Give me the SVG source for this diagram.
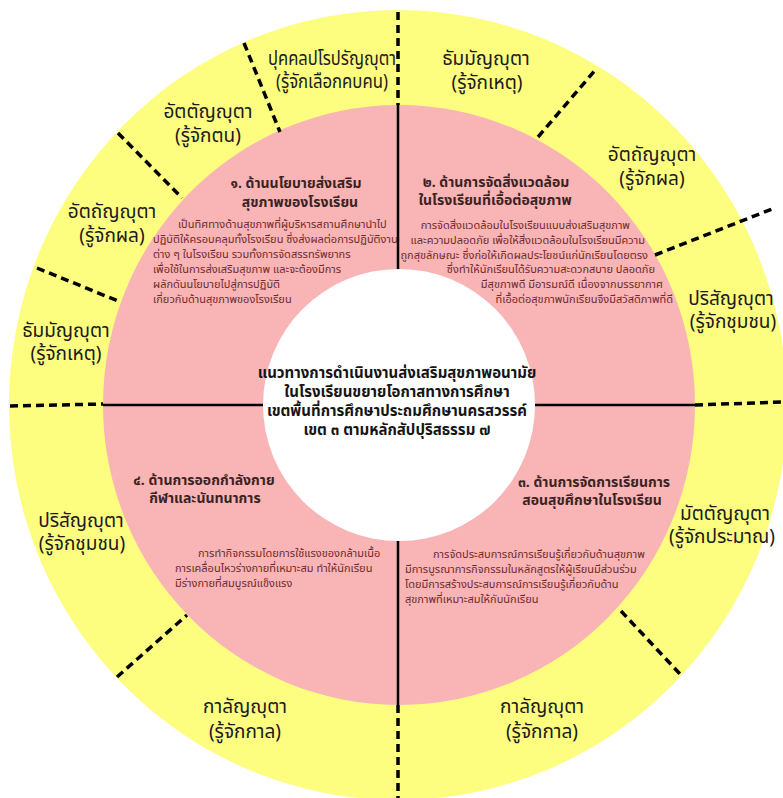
<svg xmlns="http://www.w3.org/2000/svg" width="783" height="798" viewBox="0 0 783 798">
<style>
text{font-family:"Noto Sans Thai","Noto Sans","DejaVu Sans",sans-serif}
.lbl{font-size:19px;fill:#1a1a1a;text-anchor:middle}
.ttl{font-size:14px;font-weight:bold;fill:#3b2323;text-anchor:middle}
.body{font-size:11px;fill:#6e2a2a}
.ctr{font-size:15px;font-weight:bold;fill:#151515;text-anchor:middle}
.dash{stroke:#000;stroke-width:3.5;stroke-dasharray:8 5;fill:none}
.solid{stroke:#000;stroke-width:2.5;fill:none}
</style>
<rect width="783" height="798" fill="#fff"/>
<ellipse cx="398" cy="405" rx="389" ry="395" fill="#fdfd80"/>
<ellipse cx="399" cy="405" rx="296" ry="300" fill="#f9b4b6"/>
<g id="connectors">
<line class="solid" x1="398" y1="105" x2="398" y2="705"/>
<line class="solid" x1="103" y1="405" x2="695" y2="405"/>
<line class="dash" x1="398" y1="12" x2="398" y2="105"/>
<line class="dash" x1="244" y1="43" x2="280" y2="132"/>
<line class="dash" x1="118" y1="133" x2="182" y2="198"/>
<line class="dash" x1="37" y1="268" x2="118" y2="301"/>
<line class="dash" x1="10" y1="406" x2="103" y2="404"/>
<line class="dash" x1="117" y1="677" x2="187" y2="615"/>
<line class="dash" x1="398" y1="705" x2="398" y2="798"/>
<line class="dash" x1="621" y1="611" x2="680" y2="674"/>
<line class="dash" x1="695" y1="405" x2="783" y2="402"/>
<line class="dash" x1="655" y1="255" x2="772" y2="209"/>
<line class="dash" x1="538" y1="137" x2="597" y2="68"/>
</g>
<g id="center">
<circle cx="399" cy="405" r="136" fill="#fff"/>
<text class="ctr" x="397" y="378">แนวทางการดำเนินงานส่งเสริมสุขภาพอนามัย</text>
<text class="ctr" x="397" y="397">ในโรงเรียนขยายโอกาสทางการศึกษา</text>
<text class="ctr" x="397" y="416">เขตพื้นที่การศึกษาประถมศึกษานครสวรรค์</text>
<text class="ctr" x="397" y="435">เขต ๓ ตามหลักสัปปุริสธรรม ๗</text>
</g>
<g id="section1">
<text class="ttl" x="296" y="188">๑. ด้านนโยบายส่งเสริม</text>
<text class="ttl" x="300" y="207">สุขภาพของโรงเรียน</text>
<text class="body" x="178" y="228">เป็นทิศทางด้านสุขภาพที่ผู้บริหารสถานศึกษานำไป</text>
<text class="body" x="153" y="243">ปฏิบัติให้ครอบคลุมทั้งโรงเรียน ซึ่งส่งผลต่อการปฏิบัติงาน</text>
<text class="body" x="153" y="258">ต่าง ๆ ในโรงเรียน รวมทั้งการจัดสรรทรัพยากร</text>
<text class="body" x="153" y="273">เพื่อใช้ในการส่งเสริมสุขภาพ และจะต้องมีการ</text>
<text class="body" x="153" y="288">ผลักดันนโยบายไปสู่การปฏิบัติ</text>
<text class="body" x="153" y="303">เกี่ยวกับด้านสุขภาพของโรงเรียน</text>
</g>
<g id="section2">
<text class="ttl" x="496" y="187">๒. ด้านการจัดสิ่งแวดล้อม</text>
<text class="ttl" x="495" y="205">ในโรงเรียนที่เอื้อต่อสุขภาพ</text>
<g text-anchor="end">
<text class="body" x="630" y="229">การจัดสิ่งแวดล้อมในโรงเรียนแบบส่งเสริมสุขภาพ</text>
<text class="body" x="645" y="244">และความปลอดภัย เพื่อให้สิ่งแวดล้อมในโรงเรียนมีความ</text>
<text class="body" x="648" y="259">ถูกสุขลักษณะ ซึ่งก่อให้เกิดผลประโยชน์แก่นักเรียนโดยตรง</text>
<text class="body" x="655" y="273">ซึ่งทำให้นักเรียนได้รับความสะดวกสบาย ปลอดภัย</text>
<text class="body" x="663" y="288">มีสุขภาพดี มีอารมณ์ดี เนื่องจากบรรยากาศ</text>
<text class="body" x="673" y="303">ที่เอื้อต่อสุขภาพนักเรียนจึงมีสวัสดิภาพที่ดี</text>
</g>
</g>
<g id="section3">
<text class="ttl" x="594" y="487">๓. ด้านการจัดการเรียนการ</text>
<text class="ttl" x="592" y="505">สอนสุขศึกษาในโรงเรียน</text>
<text class="body" x="433" y="558">การจัดประสบการณ์การเรียนรู้เกี่ยวกับด้านสุขภาพ</text>
<text class="body" x="405" y="573">มีการบูรณาการกิจกรรมในหลักสูตรให้ผู้เรียนมีส่วนร่วม</text>
<text class="body" x="405" y="588">โดยมีการสร้างประสบการณ์การเรียนรู้เกี่ยวกับด้าน</text>
<text class="body" x="405" y="603">สุขภาพที่เหมาะสมให้กับนักเรียน</text>
</g>
<g id="section4">
<text class="ttl" x="204" y="485">๔. ด้านการออกกำลังกาย</text>
<text class="ttl" x="205" y="503">กีฬาและนันทนาการ</text>
<text class="body" x="198" y="557">การทำกิจกรรมโดยการใช้แรงของกล้ามเนื้อ</text>
<text class="body" x="175" y="572">การเคลื่อนไหวร่างกายที่เหมาะสม ทำให้นักเรียน</text>
<text class="body" x="175" y="587">มีร่างกายที่สมบูรณ์แข็งแรง</text>
</g>
<g id="label-pukkala">
<text class="lbl" x="332" y="65" textLength="128" lengthAdjust="spacingAndGlyphs">ปุคคลปโรปรัญญุตา</text>
<text class="lbl" x="332" y="88" textLength="112" lengthAdjust="spacingAndGlyphs">(รู้จักเลือกคบคน)</text>
</g>
<g id="label-dhamma-right">
<text class="lbl" x="486" y="65">ธัมมัญญุตา</text>
<text class="lbl" x="487" y="89">(รู้จักเหตุ)</text>
</g>
<g id="label-atta-left">
<text class="lbl" x="208" y="118">อัตตัญญุตา</text>
<text class="lbl" x="208" y="142">(รู้จักตน)</text>
</g>
<g id="label-attha-left">
<text class="lbl" x="112" y="218">อัตถัญญุตา</text>
<text class="lbl" x="112" y="242">(รู้จักผล)</text>
</g>
<g id="label-dhamma-left">
<text class="lbl" x="66" y="337">ธัมมัญญุตา</text>
<text class="lbl" x="66" y="360">(รู้จักเหตุ)</text>
</g>
<g id="label-parisa-left">
<text class="lbl" x="81" y="527">ปริสัญญุตา</text>
<text class="lbl" x="82" y="550">(รู้จักชุมชน)</text>
</g>
<g id="label-kala-left">
<text class="lbl" x="245" y="713">กาลัญญุตา</text>
<text class="lbl" x="245" y="738">(รู้จักกาล)</text>
</g>
<g id="label-kala-right">
<text class="lbl" x="542" y="713">กาลัญญุตา</text>
<text class="lbl" x="542" y="738">(รู้จักกาล)</text>
</g>
<g id="label-matta">
<text class="lbl" x="725" y="520">มัตตัญญุตา</text>
<text class="lbl" x="722" y="543">(รู้จักประมาณ)</text>
</g>
<g id="label-parisa-right">
<text class="lbl" x="731" y="305">ปริสัญญุตา</text>
<text class="lbl" x="733" y="328">(รู้จักชุมชน)</text>
</g>
<g id="label-attha-right">
<text class="lbl" x="652" y="161">อัตถัญญุตา</text>
<text class="lbl" x="652" y="185">(รู้จักผล)</text>
</g>
</svg>
